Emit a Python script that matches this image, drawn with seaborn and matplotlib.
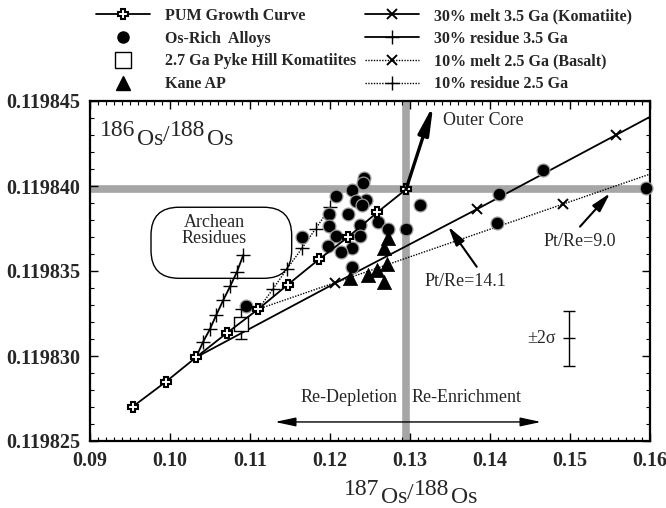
import numpy as np
import pandas as pd
import seaborn as sns
import matplotlib
matplotlib.use("Agg")
import matplotlib.pyplot as plt
from matplotlib.lines import Line2D
from matplotlib.patches import FancyBboxPatch
from matplotlib.transforms import IdentityTransform
from matplotlib.ticker import MultipleLocator, FormatStrFormatter

# ---------------- data ----------------
pum_x = [0.09534, 0.0995, 0.10325, 0.10716, 0.11104, 0.11471, 0.11863, 0.12221, 0.12591, 0.1295]
pum_y = [0.11982702, 0.11982849, 0.11982992, 0.11983137, 0.11983276, 0.11983419,
         0.11983569, 0.11983698, 0.11983845, 0.1198398]

alloy_x = [0.12425, 0.124125, 0.12075, 0.12275, 0.1245, 0.12325, 0.1240, 0.11991, 0.12221,
           0.12604, 0.11991, 0.12369, 0.12729, 0.12944, 0.12075, 0.12369, 0.11971, 0.12271,
           0.121375, 0.12271, 0.1165, 0.1095, 0.13125, 0.14666, 0.14116, 0.14084, 0.15946]
alloy_y = [0.11984047, 0.11984018, 0.11983941, 0.11983976, 0.11983918, 0.11983912, 0.11983891,
           0.11983835, 0.11983835, 0.11983791, 0.11983765, 0.11983771, 0.11983747, 0.11983747,
           0.11983706, 0.11983706, 0.11983650, 0.11983634, 0.11983612, 0.11983525, 0.11983700,
           0.11983297, 0.11983888, 0.11984094, 0.11983953, 0.11983781, 0.11983986]

kane_x = [0.12725, 0.12675, 0.127125, 0.125875, 0.12475, 0.12669, 0.1225]
kane_y = [0.11983697, 0.11983634, 0.11983541, 0.11983506, 0.11983474, 0.11983438, 0.11983456]

pyke_x = [0.10884]
pyke_y = [0.11983186]
pyke_err = [0.00000088]

melt30_x = [0.10325, 0.12063, 0.13834, 0.15575, 0.16]
melt30_y = [0.11982992, 0.11983428, 0.11983863, 0.11984300, 0.11984407]
res30_x = [0.10325, 0.104125, 0.1050, 0.10581, 0.10666, 0.10754, 0.10838, 0.10916]
res30_y = [0.11982992, 0.11983082, 0.11983159, 0.11983244, 0.11983329, 0.11983412,
           0.11983496, 0.11983594]
melt10_x = [0.11104, 0.14916, 0.16]
melt10_y = [0.11983276, 0.11983894, 0.1198407]
res10_x = [0.11104, 0.11284, 0.11459, 0.1165, 0.11819, 0.12004]
res10_y = [0.11983276, 0.11983392, 0.1198351, 0.11983634, 0.11983748, 0.11983874]

outer_core_x = [0.1295, 0.13291]
outer_core_y = [0.1198398, 0.11984476]

sigma_x = [0.14991]
sigma_y = [0.11983104]
sigma_err = [0.00000162]

x_ticks = [0.09, 0.10, 0.11, 0.12, 0.13, 0.14, 0.15, 0.16]
y_ticks = [0.119825, 0.119830, 0.119835, 0.119840, 0.119845]

# ---------------- style ----------------
sns.set_theme(style="ticks")
plt.rcParams['font.family'] = ['Liberation Serif', 'DejaVu Serif']

W, H = 666, 508
fig = plt.figure(figsize=(W / 100, H / 100), dpi=100)
L, R, T, B = 90, 650, 101, 441
ax = fig.add_axes([L / W, 1 - B / H, (R - L) / W, (B - T) / H])
ax.set_xlim(0.09, 0.16)
ax.set_ylim(0.119825, 0.119845)

# grey reference lines
ax.axvline(pum_x[-1], color='#a6a6a6', lw=5.5, zorder=0.5)
ax.axhline(pum_y[-1], color='#a6a6a6', lw=5.5, zorder=0.5)

# model lines
mk = dict(mec='black', mfc='black')
sns.lineplot(x=melt30_x, y=melt30_y, sort=False, estimator=None, color='black', lw=1.3,
             marker='x', markersize=7, mew=1.4, markevery=[1, 2, 3], ax=ax, zorder=3, **mk)
sns.lineplot(x=res30_x, y=res30_y, sort=False, estimator=None, color='black', lw=1.3,
             marker='+', markersize=10, mew=1.0, markevery=list(range(1, len(res30_x))),
             ax=ax, zorder=3, **mk)
sns.lineplot(x=melt10_x, y=melt10_y, sort=False, estimator=None, color='black', lw=1.0,
             linestyle=(0, (1, 1)), marker='x', markersize=7, mew=1.4, markevery=[1],
             ax=ax, zorder=3, **mk)
sns.lineplot(x=res10_x, y=res10_y, sort=False, estimator=None, color='black', lw=1.0,
             linestyle=(0, (1, 1)), marker='+', markersize=10, mew=1.0,
             markevery=list(range(1, len(res10_x))), ax=ax, zorder=3, **mk)

# data points
sns.scatterplot(x=alloy_x, y=alloy_y, marker='o', s=85, color='black',
                edgecolor='#9a9a9a', linewidth=0.9, ax=ax, zorder=4, clip_on=False)
sns.scatterplot(x=kane_x, y=kane_y, marker='^', s=105, color='black',
                edgecolor='black', linewidth=0.5, ax=ax, zorder=4)
ax.errorbar(pyke_x, pyke_y, yerr=pyke_err, fmt='none', ecolor='black', elinewidth=1,
            capsize=4, capthick=1, zorder=4)
sns.scatterplot(x=pyke_x, y=pyke_y, marker='s', s=95, color='white',
                edgecolor='black', linewidth=1.0, ax=ax, zorder=5)

# PUM growth curve
sns.lineplot(x=pum_x, y=pum_y, sort=False, estimator=None, color='black', lw=1.3,
             marker='P', markersize=7.5, mfc='white', mec='black', mew=1.5, ax=ax, zorder=6)

# Outer core arrow
ax.annotate('', xy=(outer_core_x[1], outer_core_y[1]), xytext=(outer_core_x[0], outer_core_y[0]),
            arrowprops=dict(arrowstyle='-|>,head_length=0.85,head_width=0.16', lw=2.4,
                            color='black', mutation_scale=20, shrinkA=0, shrinkB=0), zorder=6)
ax.text(0.13413, 0.11984388, 'Outer Core', fontsize=13, ha='left', va='center')

# Pt/Re arrows
arr = dict(arrowstyle='-|>,head_length=0.65,head_width=0.17', lw=1.5,
           color='black', mutation_scale=18, shrinkA=0, shrinkB=0)
ax.annotate('', xy=(0.13479, 0.11983761), xytext=(0.13834, 0.11983525), arrowprops=arr)
ax.text(0.136875, 0.11983437, 'Pt/Re=14.1', fontsize=13, ha='center', va='center')
ax.annotate('', xy=(0.155, 0.11983957), xytext=(0.15125, 0.11983761), arrowprops=arr)
ax.text(0.15125, 0.11983672, 'Pt/Re=9.0', fontsize=13, ha='center', va='center')

# Re-depletion / enrichment
ax.text(0.12838, 0.11982753, 'Re-Depletion', fontsize=13, ha='right', va='center')
ax.text(0.13025, 0.11982753, 'Re-Enrichment', fontsize=13, ha='left', va='center')
ax.annotate('', xy=(0.113125, 0.11982612), xytext=(0.146375, 0.11982612),
            arrowprops=dict(arrowstyle='<|-|>,head_length=0.7,head_width=0.15', lw=1.0,
                            color='black', mutation_scale=18, shrinkA=0, shrinkB=0))

# 2 sigma bar
ax.errorbar(sigma_x, sigma_y, yerr=sigma_err, fmt='none', ecolor='black', elinewidth=1,
            capsize=4, capthick=1)
ax.plot(sigma_x, sigma_y, marker='_', markersize=8, mew=1, color='black')
ax.text(0.14825, sigma_y[0], '±2σ', fontsize=13, ha='right', va='center')

# Archean residues box
p0 = ax.transData.transform((0.097625, 0.11983457))
p1 = ax.transData.transform((0.11521, 0.11983875))
box = FancyBboxPatch((p0[0], p0[1]), p1[0] - p0[0], p1[1] - p0[1],
                     boxstyle='round,pad=0,rounding_size=28', transform=IdentityTransform(),
                     fc='none', ec='black', lw=1.0, zorder=2)
ax.add_patch(box)
ax.text(0.10556, 0.11983738, 'Archean\nResidues', fontsize=13, ha='center', va='center',
        linespacing=0.95)

# axes formatting
ax.xaxis.set_major_locator(plt.FixedLocator(x_ticks))
ax.yaxis.set_major_locator(plt.FixedLocator(y_ticks))
ax.xaxis.set_minor_locator(MultipleLocator(0.001))
ax.yaxis.set_minor_locator(MultipleLocator(0.000001))
ax.xaxis.set_major_formatter(FormatStrFormatter('%.2f'))
ax.yaxis.set_major_formatter(FormatStrFormatter('%.6f'))
ax.tick_params(which='both', direction='in', top=True, right=True, color='black')
ax.tick_params(which='major', length=6, width=1.0, pad=7, labelsize=14.5)
ax.tick_params(which='minor', length=3, width=0.8)
for lab in ax.get_xticklabels() + ax.get_yticklabels():
    lab.set_fontweight('bold')
for sp in ax.spines.values():
    sp.set_visible(True)
    sp.set_linewidth(1.6)
    sp.set_color('black')
ax.set_xlabel('')
ax.set_ylabel('')


def composite_label(x, y, n1, n2, transform, size=17, drop=6):
    t1 = ax.text(x, y, n1, transform=transform, fontsize=size, va='baseline', ha='left')
    t2 = ax.annotate('Os', xy=(1, 0), xycoords=t1, xytext=(1, -drop), textcoords='offset points',
                     fontsize=size, va='bottom', ha='left', annotation_clip=False)
    t3 = ax.annotate('/', xy=(1, 0), xycoords=t2, xytext=(0, drop * 0.5), textcoords='offset points',
                     fontsize=size, va='bottom', ha='left', annotation_clip=False)
    t4 = ax.annotate(n2, xy=(1, 0), xycoords=t3, xytext=(0, drop * 0.5), textcoords='offset points',
                     fontsize=size, va='bottom', ha='left', annotation_clip=False)
    t5 = ax.annotate('Os', xy=(1, 0), xycoords=t4, xytext=(1, -drop), textcoords='offset points',
                     fontsize=size, va='bottom', ha='left', annotation_clip=False)
    return t1


composite_label((100 - L) / (R - L), (B - 136.5) / (B - T), '186', '188', ax.transAxes)
composite_label(344 / W, (H - 495) / H, '187', '188', fig.transFigure)

# legend
handles = [
    Line2D([], [], color='black', lw=1.3, marker='P', markersize=7.5, mfc='white', mec='black', mew=1.5),
    Line2D([], [], color='black', lw=0, marker='o', markersize=8),
    Line2D([], [], color='black', lw=0, marker='s', markersize=11, mfc='white', mec='black', mew=1.0),
    Line2D([], [], color='black', lw=0, marker='^', markersize=9.5),
    Line2D([], [], color='black', lw=1.3, marker='x', markersize=7, mew=1.4),
    Line2D([], [], color='black', lw=1.3, marker='+', markersize=10, mew=1.0),
    Line2D([], [], color='black', lw=1.0, linestyle=(0, (1, 1)), marker='x', markersize=7, mew=1.4),
    Line2D([], [], color='black', lw=1.0, linestyle=(0, (1, 1)), marker='+', markersize=10, mew=1.0),
]
labels = ['PUM Growth Curve', 'Os-Rich  Alloys', '2.7 Ga Pyke Hill Komatiites', 'Kane AP',
          '30% melt 3.5 Ga (Komatiite)', '30% residue 3.5 Ga', '10% melt 2.5 Ga (Basalt)',
          '10% residue 2.5 Ga']
leg = fig.legend(handles, labels, ncol=2, loc='upper left', bbox_to_anchor=(96 / W, 1 - 8 / H),
                 frameon=False, prop={'family': 'Liberation Serif', 'weight': 'bold', 'size': 11.5},
                 handlelength=3.4, handletextpad=0.95, columnspacing=0.5, labelspacing=0.42,
                 borderpad=0, borderaxespad=0, numpoints=1)

fig.savefig('out.png', dpi=100)
